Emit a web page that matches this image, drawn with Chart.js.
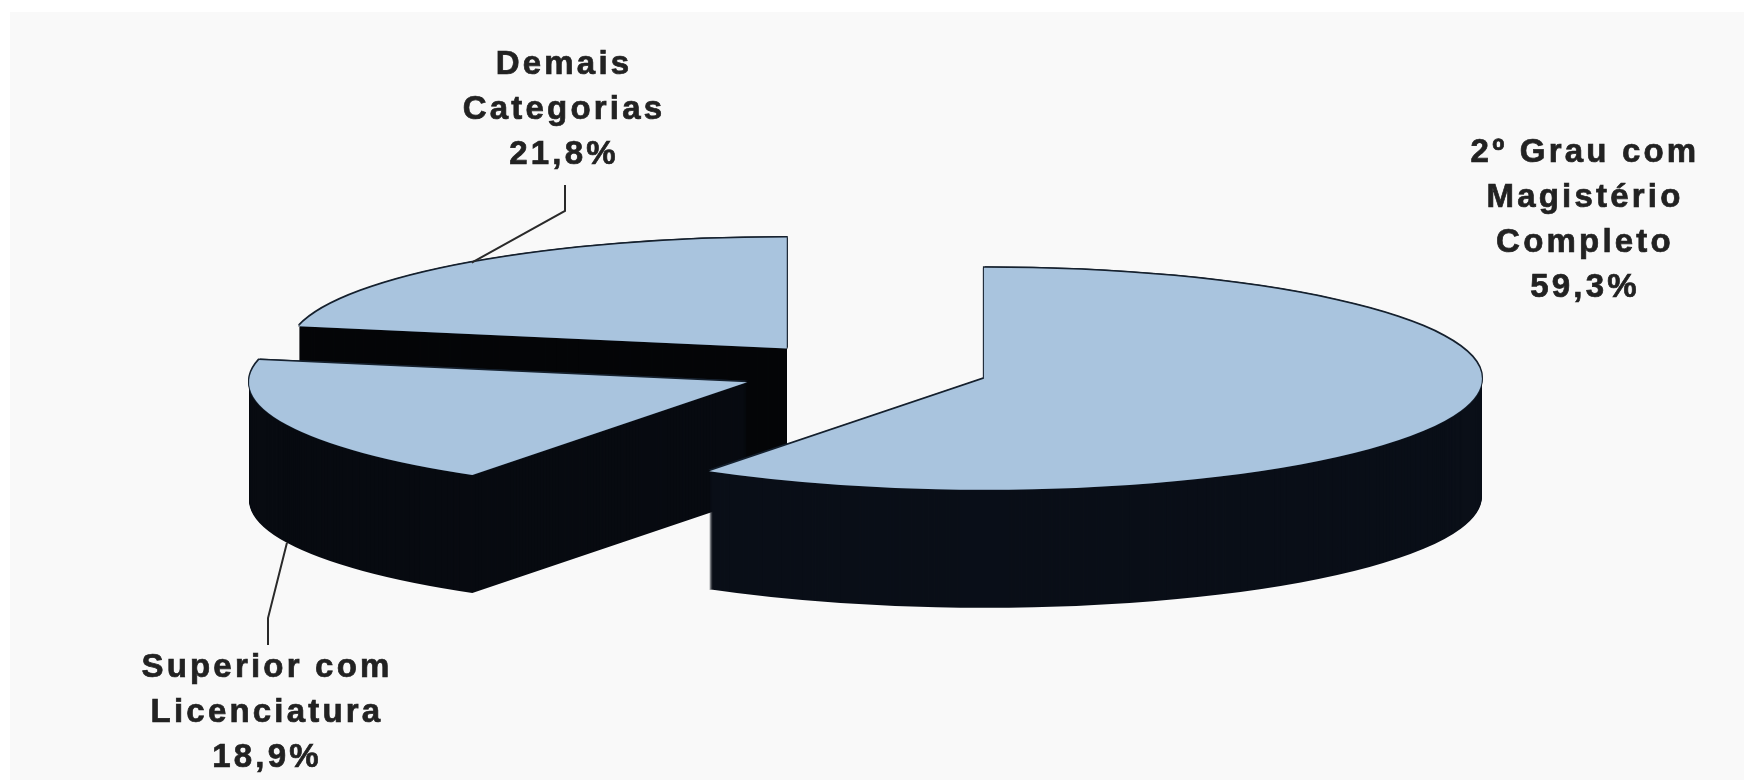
<!DOCTYPE html>
<html>
<head>
<meta charset="utf-8">
<title>Pizza 3D</title>
<script src="https://cdn.jsdelivr.net/npm/chart.js@4"></script>
<style>
  html, body { margin: 0; background: #fff; overflow: hidden; }
  #panel { position: absolute; left: 10px; top: 12px; right: 0; bottom: 0; background: #f9f9f9; }
  #chart { position: absolute; left: 0; top: 0; }
</style>
</head>
<body>
<div id="panel"></div>
<canvas id="chart" width="1744" height="780"></canvas>
<script>
// dados
const categories = ['2º Grau com Magistério Completo', 'Superior com Licenciatura', 'Demais Categorias'];
const values = [59.3, 18.9, 21.8];
const valueLabels = ['59,3%', '18,9%', '21,8%'];
const labelLines = [
  ['2º Grau com', 'Magistério', 'Completo'],
  ['Superior com', 'Licenciatura'],
  ['Demais', 'Categorias']
];

// aparencia
const topColor = '#a9c4de';
const edgeColor = '#16212e';
const wallColors = ['#0a0f18', '#080b11', '#050608'];
const explode = [120, 132, 130];
const pieCenter = { x: 869, y: 371 };
const tilt = 0.223;
const depth = 118;
const lineHeight = 45;

const labelBoxes = [
  { x: 1583, y: 153 },
  { x: 265, y: 668 },
  { x: 562, y: 65 }
];

function drawSlice(ctx, arc, i, color, dx, dy) {
  const mid = (arc.startAngle + arc.endAngle) / 2;
  const saved = arc.options;
  arc.options = { ...saved, backgroundColor: color, borderWidth: 0 };
  ctx.save();
  ctx.translate(pieCenter.x + Math.cos(mid) * explode[i] + dx, pieCenter.y + Math.sin(mid) * explode[i] * tilt + dy);
  ctx.scale(1, tilt);
  ctx.translate(-arc.x, -arc.y);
  arc.draw(ctx);
  ctx.restore();
  arc.options = saved;
}

// ponto da borda da fatia, no meio do angulo
function rimPoint(arc, i, dy) {
  const mid = (arc.startAngle + arc.endAngle) / 2;
  const r = explode[i] + arc.outerRadius;
  return { x: pieCenter.x + Math.cos(mid) * r, y: pieCenter.y + Math.sin(mid) * r * tilt + dy };
}

const pie3d = {
  id: 'pie3d',
  beforeDatasetsDraw(chart) {
    const ctx = chart.ctx;
    const arcs = chart.getDatasetMeta(0).data;
    // do fundo para a frente
    [2, 1, 0].forEach(i => {
      const arc = arcs[i];
      for (let d = depth; d >= 1; d--) {
        drawSlice(ctx, arc, i, wallColors[i], 0, d);
      }
      [[-1, -1.5], [1, -1.5], [-1, 0], [1, 0]].forEach(([dx, dy]) => {
        drawSlice(ctx, arc, i, edgeColor, dx, dy);
      });
      drawSlice(ctx, arc, i, topColor, 0, 0);
    });
    return false;
  },
  afterDraw(chart) {
    const ctx = chart.ctx;
    const arcs = chart.getDatasetMeta(0).data;

    // linhas de chamada
    ctx.save();
    ctx.strokeStyle = '#2a2a2a';
    ctx.lineWidth = 2;
    const a = rimPoint(arcs[2], 2, 0);
    ctx.beginPath();
    ctx.moveTo(565, 185);
    ctx.lineTo(565, 211);
    ctx.lineTo(a.x, a.y);
    ctx.stroke();
    const b = rimPoint(arcs[1], 1, depth);
    ctx.beginPath();
    ctx.moveTo(268, 645);
    ctx.lineTo(268, 618);
    ctx.lineTo(b.x, b.y);
    ctx.stroke();
    ctx.restore();

    // textos
    ctx.save();
    ctx.fillStyle = '#222';
    ctx.strokeStyle = '#222';
    ctx.lineWidth = 0.7;
    ctx.font = 'bold 33px "Liberation Sans", Arial, sans-serif';
    ctx.letterSpacing = '3.2px';
    ctx.textAlign = 'center';
    ctx.textBaseline = 'middle';
    labelBoxes.forEach((box, i) => {
      const lines = labelLines[i].concat(valueLabels[i]);
      lines.forEach((line, n) => {
        ctx.fillText(line, box.x + 2, box.y + n * lineHeight);
        ctx.strokeText(line, box.x + 2, box.y + n * lineHeight);
      });
    });
    ctx.restore();
  }
};

new Chart(document.getElementById('chart'), {
  type: 'pie',
  data: {
    labels: categories,
    datasets: [{
      data: values,
      backgroundColor: topColor,
      borderWidth: 0,
      radius: 498
    }]
  },
  options: {
    responsive: false,
    animation: false,
    plugins: {
      legend: { display: false },
      tooltip: { enabled: false }
    }
  },
  plugins: [pie3d]
});
</script>
</body>
</html>
